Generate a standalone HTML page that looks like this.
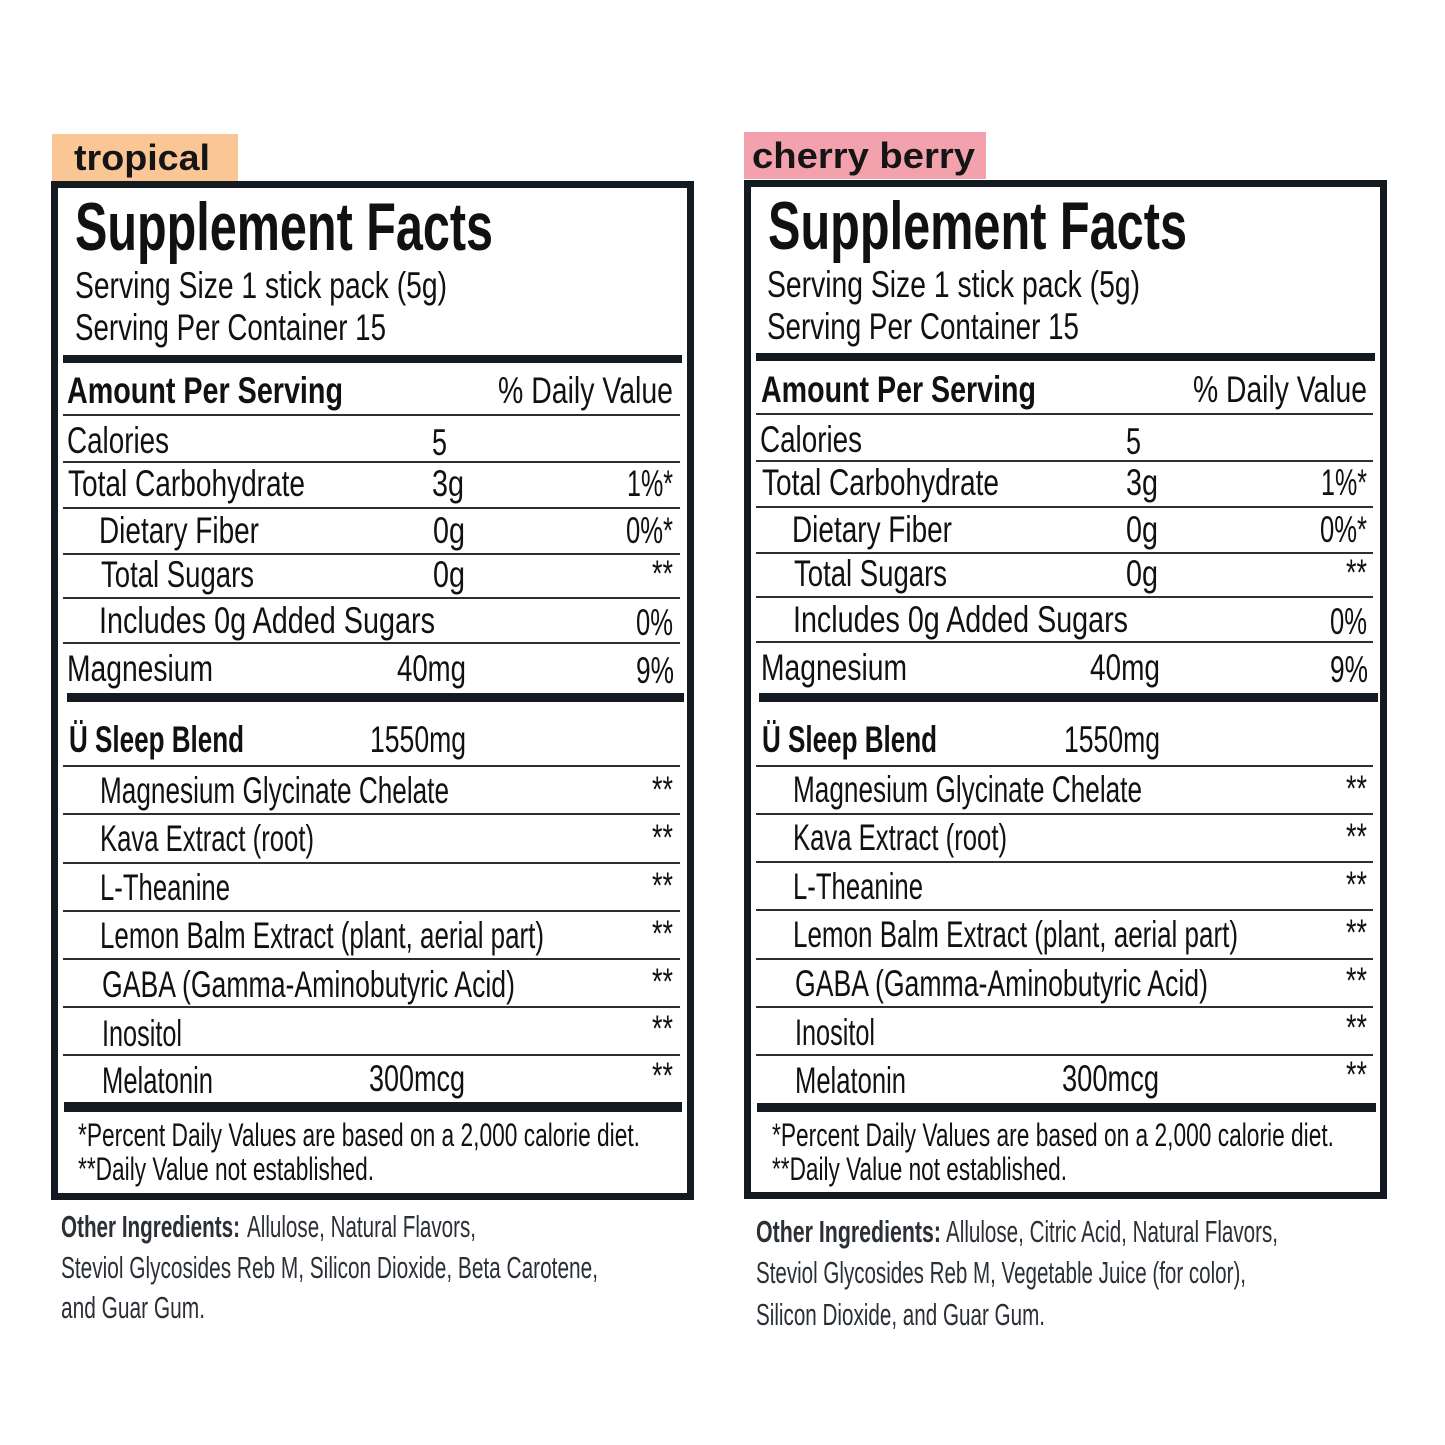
<!DOCTYPE html>
<html><head><meta charset="utf-8"><style>
html,body{margin:0;padding:0;background:#fff;}
svg{display:block;}
text{font-family:"Liberation Sans",sans-serif;fill:#111;}
.b{font-weight:bold;}
.r{font-size:37px;}
.h{font-size:37px;font-weight:bold;}
.f{font-size:32px;}
.o{font-size:31px;fill:#2b3036;}
.lab{font-size:36px;font-weight:bold;fill:#151515;}
</style></head><body>
<svg width="1445" height="1445" viewBox="0 0 1445 1445" xmlns="http://www.w3.org/2000/svg">
<rect width="1445" height="1445" fill="#fff"/>

<!-- LEFT PANEL -->
<rect x="52" y="134" width="186" height="47" fill="#fbc696"/>
<text class="lab" x="74" y="170" textLength="136" lengthAdjust="spacingAndGlyphs">tropical</text>
<rect x="54.5" y="184.5" width="636" height="1012" fill="none" stroke="#141a22" stroke-width="7"/>
<text class="b" x="75" y="250" font-size="68" textLength="418" lengthAdjust="spacingAndGlyphs">Supplement Facts</text>
<text class="r" x="75" y="298" textLength="372" lengthAdjust="spacingAndGlyphs">Serving Size 1 stick pack (5g)</text>
<text class="r" x="75" y="340" textLength="311" lengthAdjust="spacingAndGlyphs">Serving Per Container 15</text>
<rect x="63" y="355" width="619" height="8" fill="#141a22"/>
<text class="h" x="67" y="403" textLength="276" lengthAdjust="spacingAndGlyphs">Amount Per Serving</text>
<text class="r" x="498" y="403" textLength="175" lengthAdjust="spacingAndGlyphs">% Daily Value</text>
<rect x="63" y="414" width="617" height="2" fill="#2a2f35"/>
<text class="r" x="67" y="453" textLength="102" lengthAdjust="spacingAndGlyphs">Calories</text>
<text class="r" x="432" y="455" textLength="15" lengthAdjust="spacingAndGlyphs">5</text>
<rect x="63" y="461" width="617" height="2" fill="#2a2f35"/>
<text class="r" x="68" y="496" textLength="237" lengthAdjust="spacingAndGlyphs">Total Carbohydrate</text>
<text class="r" x="432" y="496" textLength="32" lengthAdjust="spacingAndGlyphs">3g</text>
<text class="r" x="627" y="496" textLength="46" lengthAdjust="spacingAndGlyphs">1%*</text>
<rect x="63" y="507" width="617" height="2" fill="#2a2f35"/>
<text class="r" x="99" y="543" textLength="160" lengthAdjust="spacingAndGlyphs">Dietary Fiber</text>
<text class="r" x="433" y="543" textLength="32" lengthAdjust="spacingAndGlyphs">0g</text>
<text class="r" x="626" y="543" textLength="47" lengthAdjust="spacingAndGlyphs">0%*</text>
<rect x="63" y="553" width="617" height="2" fill="#2a2f35"/>
<text class="r" x="101" y="587" textLength="153" lengthAdjust="spacingAndGlyphs">Total Sugars</text>
<text class="r" x="433" y="587" textLength="32" lengthAdjust="spacingAndGlyphs">0g</text>
<text class="r" x="652" y="586" textLength="21" lengthAdjust="spacingAndGlyphs">**</text>
<rect x="63" y="597" width="617" height="2" fill="#2a2f35"/>
<text class="r" x="99" y="633" textLength="336" lengthAdjust="spacingAndGlyphs">Includes 0g Added Sugars</text>
<text class="r" x="636" y="635" textLength="37" lengthAdjust="spacingAndGlyphs">0%</text>
<rect x="63" y="642" width="617" height="2" fill="#2a2f35"/>
<text class="r" x="67" y="681" textLength="146" lengthAdjust="spacingAndGlyphs">Magnesium</text>
<text class="r" x="397" y="681" textLength="69" lengthAdjust="spacingAndGlyphs">40mg</text>
<text class="r" x="636" y="683" textLength="38" lengthAdjust="spacingAndGlyphs">9%</text>
<rect x="67" y="693" width="617" height="9" fill="#141a22"/>
<text class="h" x="69" y="752" textLength="175" lengthAdjust="spacingAndGlyphs">Ü Sleep Blend</text>
<text class="r" x="370" y="752" textLength="96" lengthAdjust="spacingAndGlyphs">1550mg</text>
<rect x="63" y="765" width="617" height="2" fill="#2a2f35"/>
<text class="r" x="100" y="803" textLength="349" lengthAdjust="spacingAndGlyphs">Magnesium Glycinate Chelate</text>
<text class="r" x="652" y="802" textLength="21" lengthAdjust="spacingAndGlyphs">**</text>
<rect x="63" y="813" width="617" height="2" fill="#2a2f35"/>
<text class="r" x="100" y="851" textLength="214" lengthAdjust="spacingAndGlyphs">Kava Extract (root)</text>
<text class="r" x="652" y="850" textLength="21" lengthAdjust="spacingAndGlyphs">**</text>
<rect x="63" y="862" width="617" height="2" fill="#2a2f35"/>
<text class="r" x="100" y="900" textLength="130" lengthAdjust="spacingAndGlyphs">L-Theanine</text>
<text class="r" x="652" y="898" textLength="21" lengthAdjust="spacingAndGlyphs">**</text>
<rect x="63" y="910" width="617" height="2" fill="#2a2f35"/>
<text class="r" x="100" y="948" textLength="444" lengthAdjust="spacingAndGlyphs">Lemon Balm Extract (plant, aerial part)</text>
<text class="r" x="652" y="946" textLength="21" lengthAdjust="spacingAndGlyphs">**</text>
<rect x="63" y="958" width="617" height="2" fill="#2a2f35"/>
<text class="r" x="102" y="997" textLength="413" lengthAdjust="spacingAndGlyphs">GABA (Gamma-Aminobutyric Acid)</text>
<text class="r" x="652" y="994" textLength="21" lengthAdjust="spacingAndGlyphs">**</text>
<rect x="63" y="1006" width="617" height="2" fill="#2a2f35"/>
<text class="r" x="102" y="1046" textLength="80" lengthAdjust="spacingAndGlyphs">Inositol</text>
<text class="r" x="652" y="1041" textLength="21" lengthAdjust="spacingAndGlyphs">**</text>
<rect x="63" y="1054" width="617" height="2" fill="#2a2f35"/>
<text class="r" x="102" y="1093" textLength="111" lengthAdjust="spacingAndGlyphs">Melatonin</text>
<text class="r" x="369" y="1091" textLength="96" lengthAdjust="spacingAndGlyphs">300mcg</text>
<text class="r" x="652" y="1088" textLength="21" lengthAdjust="spacingAndGlyphs">**</text>
<rect x="64" y="1102" width="618" height="10" fill="#141a22"/>
<text class="f" x="78" y="1146" textLength="562" lengthAdjust="spacingAndGlyphs">*Percent Daily Values are based on a 2,000 calorie diet.</text>
<text class="f" x="78" y="1180" textLength="296" lengthAdjust="spacingAndGlyphs">**Daily Value not established.</text>

<text class="o b" x="61" y="1237" textLength="179" lengthAdjust="spacingAndGlyphs">Other Ingredients:</text>
<text class="o" x="247" y="1237" textLength="229" lengthAdjust="spacingAndGlyphs">Allulose, Natural Flavors,</text>
<text class="o" x="61" y="1278" textLength="537" lengthAdjust="spacingAndGlyphs">Steviol Glycosides Reb M, Silicon Dioxide, Beta Carotene,</text>
<text class="o" x="61" y="1318" textLength="144" lengthAdjust="spacingAndGlyphs">and Guar Gum.</text>

<!-- RIGHT PANEL -->
<rect x="744" y="132" width="242" height="47" fill="#f4a1ae"/>
<text class="lab" x="752" y="168" textLength="223" lengthAdjust="spacingAndGlyphs">cherry berry</text>
<g transform="translate(693,-1)">
<rect x="54.5" y="184.5" width="636" height="1012" fill="none" stroke="#141a22" stroke-width="7"/>
<text class="b" x="75" y="250" font-size="68" textLength="419" lengthAdjust="spacingAndGlyphs">Supplement Facts</text>
<text class="r" x="74" y="298" textLength="373" lengthAdjust="spacingAndGlyphs">Serving Size 1 stick pack (5g)</text>
<text class="r" x="74" y="340" textLength="312" lengthAdjust="spacingAndGlyphs">Serving Per Container 15</text>
<rect x="63" y="354" width="619" height="8" fill="#141a22"/>
<text class="h" x="68" y="403" textLength="275" lengthAdjust="spacingAndGlyphs">Amount Per Serving</text>
<text class="r" x="500" y="403" textLength="174" lengthAdjust="spacingAndGlyphs">% Daily Value</text>
<rect x="63" y="414" width="617" height="2" fill="#2a2f35"/>
<text class="r" x="67" y="453" textLength="102" lengthAdjust="spacingAndGlyphs">Calories</text>
<text class="r" x="433" y="455" textLength="15" lengthAdjust="spacingAndGlyphs">5</text>
<rect x="63" y="461" width="617" height="2" fill="#2a2f35"/>
<text class="r" x="69" y="496" textLength="237" lengthAdjust="spacingAndGlyphs">Total Carbohydrate</text>
<text class="r" x="433" y="496" textLength="32" lengthAdjust="spacingAndGlyphs">3g</text>
<text class="r" x="628" y="496" textLength="46" lengthAdjust="spacingAndGlyphs">1%*</text>
<rect x="63" y="507" width="617" height="2" fill="#2a2f35"/>
<text class="r" x="99" y="543" textLength="160" lengthAdjust="spacingAndGlyphs">Dietary Fiber</text>
<text class="r" x="433" y="543" textLength="32" lengthAdjust="spacingAndGlyphs">0g</text>
<text class="r" x="627" y="543" textLength="47" lengthAdjust="spacingAndGlyphs">0%*</text>
<rect x="63" y="553" width="617" height="2" fill="#2a2f35"/>
<text class="r" x="101" y="587" textLength="153" lengthAdjust="spacingAndGlyphs">Total Sugars</text>
<text class="r" x="433" y="587" textLength="32" lengthAdjust="spacingAndGlyphs">0g</text>
<text class="r" x="653" y="586" textLength="21" lengthAdjust="spacingAndGlyphs">**</text>
<rect x="63" y="597" width="617" height="2" fill="#2a2f35"/>
<text class="r" x="100" y="633" textLength="335" lengthAdjust="spacingAndGlyphs">Includes 0g Added Sugars</text>
<text class="r" x="637" y="635" textLength="37" lengthAdjust="spacingAndGlyphs">0%</text>
<rect x="63" y="642" width="617" height="2" fill="#2a2f35"/>
<text class="r" x="68" y="681" textLength="146" lengthAdjust="spacingAndGlyphs">Magnesium</text>
<text class="r" x="397" y="681" textLength="70" lengthAdjust="spacingAndGlyphs">40mg</text>
<text class="r" x="637" y="683" textLength="38" lengthAdjust="spacingAndGlyphs">9%</text>
<rect x="66" y="694" width="619" height="9" fill="#141a22"/>
<text class="h" x="69" y="753" textLength="175" lengthAdjust="spacingAndGlyphs">Ü Sleep Blend</text>
<text class="r" x="371" y="753" textLength="96" lengthAdjust="spacingAndGlyphs">1550mg</text>
<rect x="63" y="766" width="617" height="2" fill="#2a2f35"/>
<text class="r" x="100" y="803" textLength="349" lengthAdjust="spacingAndGlyphs">Magnesium Glycinate Chelate</text>
<text class="r" x="653" y="802" textLength="21" lengthAdjust="spacingAndGlyphs">**</text>
<rect x="63" y="814" width="617" height="2" fill="#2a2f35"/>
<text class="r" x="100" y="851" textLength="214" lengthAdjust="spacingAndGlyphs">Kava Extract (root)</text>
<text class="r" x="653" y="850" textLength="21" lengthAdjust="spacingAndGlyphs">**</text>
<rect x="63" y="862" width="617" height="2" fill="#2a2f35"/>
<text class="r" x="100" y="900" textLength="130" lengthAdjust="spacingAndGlyphs">L-Theanine</text>
<text class="r" x="653" y="898" textLength="21" lengthAdjust="spacingAndGlyphs">**</text>
<rect x="63" y="910" width="617" height="2" fill="#2a2f35"/>
<text class="r" x="100" y="948" textLength="445" lengthAdjust="spacingAndGlyphs">Lemon Balm Extract (plant, aerial part)</text>
<text class="r" x="653" y="946" textLength="21" lengthAdjust="spacingAndGlyphs">**</text>
<rect x="63" y="959" width="617" height="2" fill="#2a2f35"/>
<text class="r" x="102" y="997" textLength="413" lengthAdjust="spacingAndGlyphs">GABA (Gamma-Aminobutyric Acid)</text>
<text class="r" x="653" y="994" textLength="21" lengthAdjust="spacingAndGlyphs">**</text>
<rect x="63" y="1007" width="617" height="2" fill="#2a2f35"/>
<text class="r" x="102" y="1046" textLength="80" lengthAdjust="spacingAndGlyphs">Inositol</text>
<text class="r" x="653" y="1041" textLength="21" lengthAdjust="spacingAndGlyphs">**</text>
<rect x="63" y="1055" width="617" height="2" fill="#2a2f35"/>
<text class="r" x="102" y="1094" textLength="111" lengthAdjust="spacingAndGlyphs">Melatonin</text>
<text class="r" x="369" y="1092" textLength="97" lengthAdjust="spacingAndGlyphs">300mcg</text>
<text class="r" x="653" y="1088" textLength="21" lengthAdjust="spacingAndGlyphs">**</text>
<rect x="64" y="1104" width="619" height="9" fill="#141a22"/>
<text class="f" x="79" y="1147" textLength="562" lengthAdjust="spacingAndGlyphs">*Percent Daily Values are based on a 2,000 calorie diet.</text>
<text class="f" x="79" y="1181" textLength="295" lengthAdjust="spacingAndGlyphs">**Daily Value not established.</text>
</g>

<text class="o b" x="756" y="1242" textLength="185" lengthAdjust="spacingAndGlyphs">Other Ingredients:</text>
<text class="o" x="946" y="1242" textLength="332" lengthAdjust="spacingAndGlyphs">Allulose, Citric Acid, Natural Flavors,</text>
<text class="o" x="756" y="1283" textLength="490" lengthAdjust="spacingAndGlyphs">Steviol Glycosides Reb M, Vegetable Juice (for color),</text>
<text class="o" x="756" y="1325" textLength="289" lengthAdjust="spacingAndGlyphs">Silicon Dioxide, and Guar Gum.</text>
</svg>
</body></html>
